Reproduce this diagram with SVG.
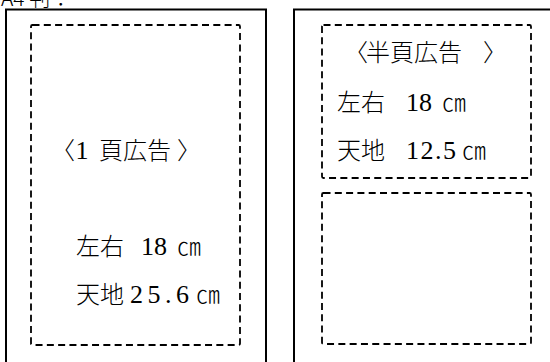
<svg xmlns="http://www.w3.org/2000/svg" width="550" height="362" viewBox="0 0 550 362">
<style>
.outer{fill:none;stroke:#000;stroke-width:2}
.dash{fill:none;stroke:#000;stroke-width:1.8;stroke-dasharray:7 4.3}
text{font-family:"Noto Sans CJK JP","Liberation Serif",serif;font-size:24px;font-weight:300;fill:#000}
.n{font-family:"Liberation Serif","Noto Sans CJK JP",serif;font-size:26px;font-weight:400}
.title{font-size:21px}
</style>
<rect width="550" height="362" fill="#fff"/>
<text class="title" x="1" y="6">A4 判：</text>
<g id="page-full">
<rect class="outer" x="6" y="9.5" width="260" height="360"/>
<rect class="dash" x="31" y="25" width="209" height="320" rx="1.5"/>
<text y="159"><tspan x="51">〈</tspan><tspan class="n" x="75.5">1</tspan><tspan x="99">頁広告</tspan><tspan x="177">〉</tspan></text>
<text y="255"><tspan x="76">左右</tspan><tspan class="n" x="141">18</tspan><tspan x="177">㎝</tspan></text>
<text y="303"><tspan x="76">天地</tspan><tspan class="n" x="130" letter-spacing="4.5">25.6</tspan><tspan x="196">㎝</tspan></text>
</g>
<g id="page-half">
<rect class="outer" x="294" y="9.5" width="270" height="360"/>
<rect class="dash" x="322" y="25" width="209" height="153" rx="1.5"/>
<rect class="dash" x="322" y="193" width="209" height="151" rx="1.5"/>
<text y="61"><tspan x="344">〈</tspan><tspan x="366">半頁広告</tspan><tspan x="483">〉</tspan></text>
<text y="111"><tspan x="337">左右</tspan><tspan class="n" x="406">18</tspan><tspan x="442">㎝</tspan></text>
<text y="159"><tspan x="337">天地</tspan><tspan class="n" x="406" letter-spacing="1.5">12.5</tspan><tspan x="462">㎝</tspan></text>
</g>
<g id="connectors"></g>
</svg>
